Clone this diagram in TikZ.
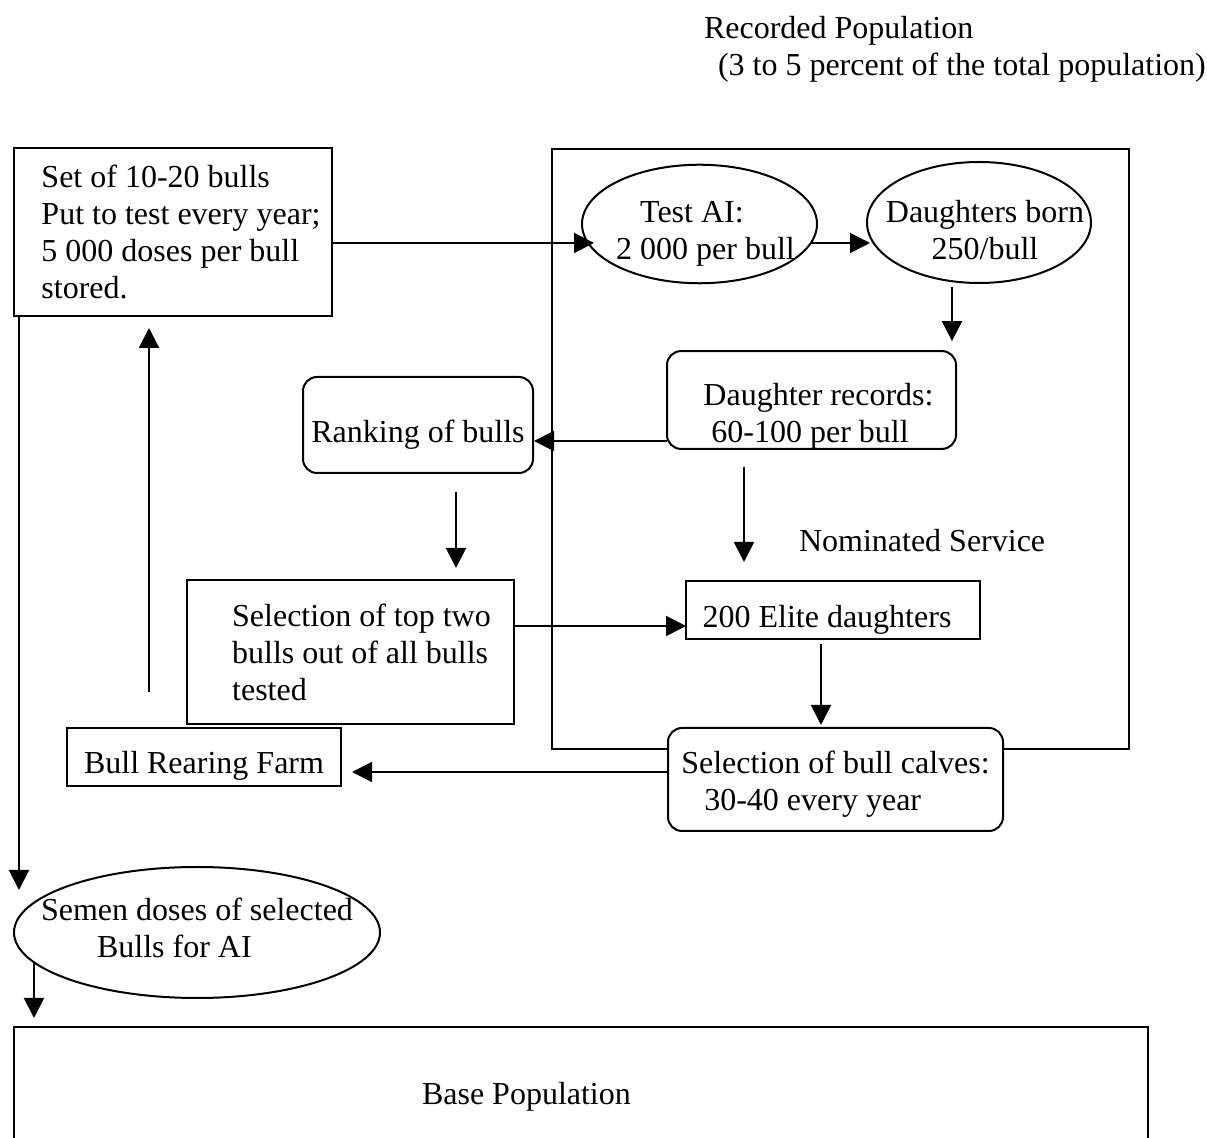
\documentclass[tikz,border=0pt]{standalone}
\usepackage{fontspec}
\setmainfont{Liberation Serif}
\usepackage{tikz}
\usetikzlibrary{arrows.meta, shapes.geometric, calc}
\tikzset{sqbox/.style={draw, fill=white, inner xsep=4pt, inner ysep=0pt, outer sep=0pt, align=left},
         rndbox/.style={sqbox, rounded corners=7pt},
         ovalbox/.style={draw, fill=white, ellipse, inner xsep=-14pt, inner ysep=0pt, outer sep=0pt},
         plaintext/.style={inner sep=0pt}}
\newcommand{\toppad}[1]{\rule{0pt}{#1}}
\newcommand{\botpad}[1]{\rule[-#1]{0pt}{#1}}

\begin{document}
\begin{tikzpicture}[x=0.5pt, y=-0.5pt, line width=1pt, >={Triangle[length=10pt, width=10pt]}, every node/.style={font=\fontsize{16}{18.5}\selectfont}]
\useasboundingbox (0,0) rectangle (1207,1138);
\node[plaintext, anchor=north west, align=left] (recorded) at (703,15) {Recorded Population\\\hspace*{7pt}(3 to 5 percent of the total population)};
\node[draw, outer sep=0pt, minimum width=288.5pt, minimum height=300pt] (recpop) at (840.5,449) {};
\node[sqbox, minimum width=159pt, minimum height=84pt] (setbox) at (173,232) {\hspace*{8pt}Set of 10-20 bulls\\\hspace*{8pt}Put to test every year;\\\hspace*{8pt}5 000 doses per bull\\\hspace*{8pt}stored.};
\node[ovalbox, align=left, minimum width=117.5pt, minimum height=59pt] (testai) at (699.5,224) {\toppad{20pt}\hspace*{18pt}Test AI:\\\hspace*{6pt}2 000 per bull};
\node[ovalbox, align=center, minimum width=112pt, minimum height=60.5pt] (daughters) at (979,222.5) {\toppad{18.2pt}\hspace*{6pt}Daughters born\\\hspace*{6pt}250/bull};
\node[rndbox, minimum width=144.5pt, minimum height=48pt] (records) at (811.5,400) {\toppad{27pt}\hspace*{7pt}Daughter records:\\\hspace*{11pt}60-100 per bull};
\node[rndbox, minimum width=115pt, minimum height=48pt] (ranking) at (418,425) {\toppad{20.5pt}Ranking of bulls};
\node[plaintext, anchor=base west] (nominated) at (798,552) {Nominated Service};
\node[sqbox, minimum width=163.5pt, minimum height=72pt] (selbox) at (350.5,652) {\hspace*{11pt}Selection of top two\\\hspace*{11pt}bulls out of all bulls\\\hspace*{11pt}tested};
\node[sqbox, minimum width=147pt, minimum height=29pt] (elite) at (833,610) {\toppad{20.5pt}200 Elite daughters\hspace*{6pt}};
\node[rndbox, minimum width=167.5pt, minimum height=51.5pt] (calves) at (835.5,779.5) {\toppad{15.5pt}Selection of bull calves:\\\hspace*{11.5pt}30-40 every year};
\node[sqbox, minimum width=137pt, minimum height=29pt] (bullfarm) at (204,757) {\toppad{19.5pt}Bull Rearing Farm};
\node[ovalbox, align=left, minimum width=183pt, minimum height=65.5pt] (semen) at (197,932.5) {Semen doses of selected\\\hspace*{28pt}Bulls for AI\botpad{5pt}};
\node[draw, outer sep=0pt, minimum width=567pt, minimum height=56.5pt] (base) at (581,1083.5) {};
\node[plaintext, anchor=base west] (basetext) at (421,1105) {Base Population};
\coordinate (farmup) at (149,692);

% arrows
\draw[->] ($(setbox.east)+(0,11)$) -- ($(testai.west)+(12,19)$);
\draw[->] ($(testai.east)+(-7,19)$) -- ($(daughters.west)+(3,20.5)$);
\draw[->] ($(daughters.south)+(-27,4)$) -- ($(records.north east)+(-4,-10)$);
\draw[->] ($(records.west)+(0,41)$) -- ($(ranking.east)+(1,16)$);
\draw[->] ($(records.south)+(-67.5,18)$) -- ($(elite.north west)+(58,-19)$);
\draw[->] ($(ranking.south)+(38,19)$) -- ($(selbox.north)+(105.5,-12)$);
\draw[->] ($(selbox.east)+(0,-26)$) -- ($(elite.west)+(0,16)$);
\draw[->] ($(elite.south)+(-12,5)$) -- ($(calves.north)+(-14.5,-3)$);
\draw[->] ($(calves.west)+(0,-7.5)$) -- ($(bullfarm.east)+(11,15)$);
\draw[->] (farmup) -- ($(setbox.south)+(-24,12)$);
\draw[->] ($(setbox.south west)+(5,0)$) -- ($(semen.west)+(5,-42.5)$);
\draw[->] ($(semen.west)+(20,29.5)$) -- ($(base.north west)+(20,-9)$);
\end{tikzpicture}
\end{document}
